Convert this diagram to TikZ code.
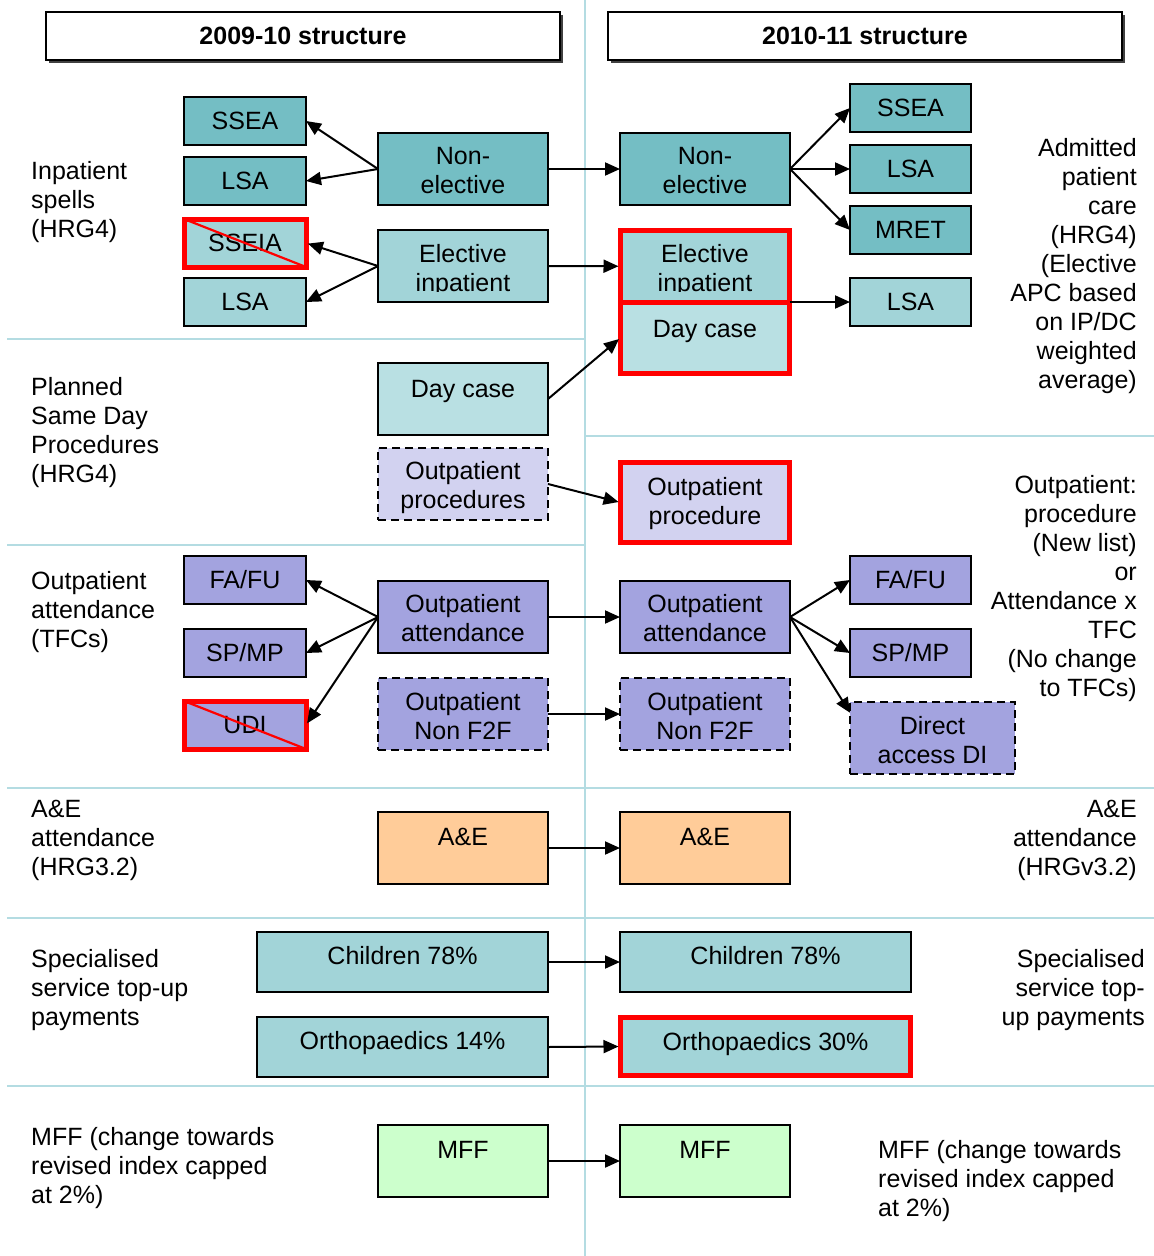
\documentclass[tikz,border=0pt]{standalone}
\usepackage{fontspec}
\setmainfont{Liberation Sans}
\usetikzlibrary{arrows.meta}
\definecolor{dteal}{HTML}{74BEC4}
\definecolor{lteal}{HTML}{A2D4D8}
\definecolor{xteal}{HTML}{B9E0E3}
\definecolor{lav}{HTML}{D2D2F0}
\definecolor{purp}{HTML}{A3A3DF}
\definecolor{orng}{HTML}{FFCC99}
\definecolor{grn}{HTML}{CCFFCC}
\definecolor{gridc}{HTML}{B4DCE2}
\newcommand\fs{\fontsize{25}{29}\selectfont}
\begin{document}
\begin{tikzpicture}[x=1pt,y=-1pt,
  bx/.style={draw=black, line width=2.6pt, inner sep=0pt, outer sep=0pt, font=\fs},
  redbx/.style={draw=red, line width=5pt, inner sep=0pt, outer sep=0pt, font=\fs},
  dbx/.style={bx, dash pattern=on 8pt off 5pt},
  txt/.style={font=\fs, align=center, inner sep=0pt, anchor=north, execute at begin node=\strut},
  lbl/.style={font=\fs, align=left, inner sep=0pt, anchor=north west, execute at begin node=\strut},
  rlbl/.style={font=\fs, align=right, inner sep=0pt, anchor=north east, execute at begin node=\strut},
  arr/.style={line width=2pt, -{Triangle[length=15pt,width=13pt]}},
  gridline/.style={draw=gridc, line width=2.5pt},
  sz/.style 2 args={minimum width=#1pt, minimum height=#2pt}
]
\useasboundingbox (0,0) rectangle (1154,1256);
\fill[white] (0,0) rectangle (1154,1256);

% grid lines
\draw[gridline] (585,0) -- (585,1256);
\draw[gridline] (7,339) -- (585,339);
\draw[gridline] (585,436) -- (1154,436);
\draw[gridline] (7,545) -- (585,545);
\draw[gridline] (7,788) -- (1154,788);
\draw[gridline] (7,918) -- (1154,918);
\draw[gridline] (7,1086) -- (1154,1086);

% titles
\fill[black!75] (48.5,14.5) rectangle (562.5,62.5);
\node[draw, fill=white, line width=1.5pt, sz={514}{48}, inner sep=0pt, font=\fs\bfseries] (t1) at (303,36) {2009-10 structure};
\fill[black!75] (610.5,14.5) rectangle (1124.5,62.5);
\node[draw, fill=white, line width=1.5pt, sz={514}{48}, inner sep=0pt, font=\fs\bfseries] (t2) at (865,36) {2010-11 structure};

% side labels
\node[lbl] (lab1) at (31,160.7) {Inpatient\\spells\\(HRG4)};
\node[lbl] (lab2) at (31,376.7) {Planned\\Same Day\\Procedures\\(HRG4)};
\node[lbl] (lab3) at (31,570.7) {Outpatient\\attendance\\(TFCs)};
\node[lbl] (lab4) at (31,799.7) {A\&E\\attendance\\(HRG3.2)};
\node[lbl] (lab5) at (31,948.7) {Specialised\\service top-up\\payments};
\node[lbl] (lab6) at (31,1126.7) {MFF (change towards\\revised index capped\\at 2\%)};
\node[rlbl] (rab1) at (1137,137.7) {Admitted\\patient\\care\\(HRG4)\\(Elective\\APC based\\on IP/DC\\weighted\\average)};
\node[rlbl] (rab2) at (1137,474.7) {Outpatient:\\procedure\\(New list)\\or\\Attendance x\\TFC\\(No change\\to TFCs)};
\node[rlbl] (rab3) at (1137,799.7) {A\&E\\attendance\\(HRGv3.2)};
\node[rlbl] (rab4) at (1145,948.7) {Specialised\\service top-\\up payments};
\node[lbl] (rab5) at (878,1139.7) {MFF (change towards\\revised index capped\\at 2\%)};

% left column small boxes
\node[bx, fill=dteal, sz={122}{48}] (sseaL) at (245,121) {SSEA};
\node[bx, fill=dteal, sz={122}{48}] (lsaL1) at (245,181) {LSA};
\node[redbx, fill=lteal, sz={122}{48}] (sseiaL) at (245,243) {SSEIA};
\draw[red, line width=2.2pt] (sseiaL.north west) -- (sseiaL.south east);
\node[bx, fill=lteal, sz={122}{48}] (lsaL2) at (245,302) {LSA};
\node[bx, fill=purp, sz={122}{48}] (fafuL) at (245,580) {FA/FU};
\node[bx, fill=purp, sz={122}{48}] (spmpL) at (245,653) {SP/MP};
\node[redbx, fill=purp, sz={122}{48}] (udiL) at (245,725) {UDI};
\draw[red, line width=2.2pt] (udiL.north west) -- (udiL.south east);

% left column main boxes
\node[bx, fill=dteal, sz={170}{72}] (neL) at (463,169) {};
\node[txt] (neLt) at (463,146.7) {Non-\\elective};
\node[bx, fill=lteal, sz={170}{72}] (eiL) at (463,266) {};
\node[txt] (eiLt) at (463,243.7) {Elective\\inpatient};
\fill[lteal] (379.4,292) rectangle (546.6,300.6);
\node[bx, fill=xteal, sz={170}{72}] (dcL) at (463,399) {};
\node[txt] (dcLt) at (463,376.7) {Day case};
\node[dbx, fill=lav, sz={170}{72}] (opL) at (463,484) {};
\node[txt] (opLt) at (463,460.7) {Outpatient\\procedures};
\node[bx, fill=purp, sz={170}{72}] (oaL) at (463,617) {};
\node[txt] (oaLt) at (463,594.2) {Outpatient\\attendance};
\node[dbx, fill=purp, sz={170}{72}] (nfL) at (463,714) {};
\node[txt] (nfLt) at (463,691.7) {Outpatient\\Non F2F};
\node[bx, fill=orng, sz={170}{72}] (aeL) at (463,848) {};
\node[txt] (aeLt) at (463,824.7) {A\&E};
\node[bx, fill=lteal, sz={291}{60}] (chL) at (402.5,962) {};
\node[txt] (chLt) at (402.5,943.7) {Children 78\%};
\node[bx, fill=lteal, sz={291}{60}] (orL) at (402.5,1047) {};
\node[txt] (orLt) at (402.5,1028.7) {Orthopaedics 14\%};
\node[bx, fill=grn, sz={170}{72}] (mffL) at (463,1161) {};
\node[txt] (mffLt) at (463,1137.7) {MFF};

% right column main boxes
\node[bx, fill=dteal, sz={170}{72}] (neR) at (705,169) {};
\node[txt] (neRt) at (705,146.7) {Non-\\elective};
\node[redbx, fill=lteal, sz={169}{71.5}] (eiR) at (705,266.25) {};
\node[txt] (eiRt) at (705,243.7) {Elective\\inpatient};
\fill[lteal] (623,292) rectangle (787,299.4);
\node[redbx, fill=xteal, sz={169}{71.5}] (dcR) at (705,337.75) {};
\node[txt] (dcRt) at (705,316.7) {Day case};
\node[redbx, fill=lav, sz={169}{80}] (opR) at (705,502.5) {};
\node[txt] (opRt) at (705,476.7) {Outpatient\\procedure};
\node[bx, fill=purp, sz={170}{72}] (oaR) at (705,617) {};
\node[txt] (oaRt) at (705,593.7) {Outpatient\\attendance};
\node[dbx, fill=purp, sz={170}{72}] (nfR) at (705,714) {};
\node[txt] (nfRt) at (705,691.7) {Outpatient\\Non F2F};
\node[bx, fill=orng, sz={170}{72}] (aeR) at (705,848) {};
\node[txt] (aeRt) at (705,824.7) {A\&E};
\node[bx, fill=lteal, sz={291}{60}] (chR) at (765.5,962) {};
\node[txt] (chRt) at (765.5,943.7) {Children 78\%};
\node[redbx, fill=lteal, sz={290}{58}] (orR) at (765.5,1046.5) {};
\node[txt] (orRt) at (765.5,1029.7) {Orthopaedics 30\%};
\node[bx, fill=grn, sz={170}{72}] (mffR) at (705,1161) {};
\node[txt] (mffRt) at (705,1137.7) {MFF};

% right column small boxes
\node[bx, fill=dteal, sz={121}{48}] (sseaR) at (910.5,108) {SSEA};
\node[bx, fill=dteal, sz={121}{48}] (lsaR1) at (910.5,169) {LSA};
\node[bx, fill=dteal, sz={121}{48}] (mretR) at (910.5,230) {MRET};
\node[bx, fill=lteal, sz={121}{48}] (lsaR2) at (910.5,302) {LSA};
\node[bx, fill=purp, sz={121}{48}] (fafuR) at (910.5,580) {FA/FU};
\node[bx, fill=purp, sz={121}{48}] (spmpR) at (910.5,653) {SP/MP};
\node[dbx, fill=purp, sz={165}{72}] (daR) at (932.5,738) {};
\node[txt] (daRt) at (932.5,715.7) {Direct\\access DI};

% arrows
\draw[arr] (neL.west) -- (sseaL.east);
\draw[arr] (neL.west) -- (lsaL1.east);
\draw[arr, shorten >=2pt] (eiL.west) -- (sseiaL.east);
\draw[arr] (eiL.west) -- (lsaL2.east);
\draw[arr] (neL.east) -- (neR.west);
\draw[arr, shorten >=2pt] (eiL.east) -- (eiR.west);
\draw[arr, shorten >=2pt] (dcL.east) -- (dcR.west);
\draw[arr, shorten >=2pt] (opL.east) -- (opR.west);
\draw[arr] (neR.east) -- (sseaR.west);
\draw[arr] (neR.east) -- (lsaR1.west);
\draw[arr] (neR.east) -- (mretR.west);
\draw[arr] (eiR.south east) -- (lsaR2.west);
\draw[arr] (oaL.west) -- (fafuL.east);
\draw[arr] (oaL.west) -- (spmpL.east);
\draw[arr, shorten >=2pt] (oaL.west) -- (udiL.east);
\draw[arr] (oaL.east) -- (oaR.west);
\draw[arr] (nfL.east) -- (nfR.west);
\draw[arr] (oaR.east) -- (fafuR.west);
\draw[arr] (oaR.east) -- (spmpR.west);
\draw[arr] (oaR.east) -- (daR.163);
\draw[arr] (aeL.east) -- (aeR.west);
\draw[arr] (chL.east) -- (chR.west);
\draw[arr, shorten >=2pt] (orL.east) -- (orR.west);
\draw[arr] (mffL.east) -- (mffR.west);
\end{tikzpicture}
\end{document}
